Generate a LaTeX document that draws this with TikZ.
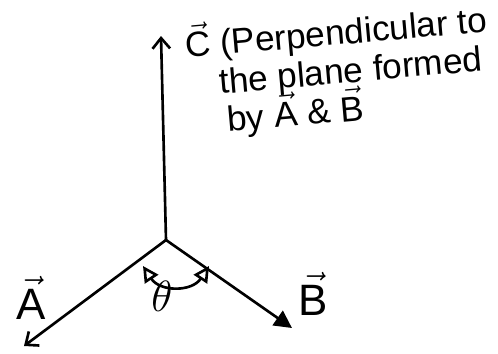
\documentclass[tikz,border=0pt]{standalone}
\usepackage{amsmath}
\usepackage{fontspec}
\setmainfont{Liberation Sans}
\usetikzlibrary{arrows.meta,positioning}
\newcommand{\vecl}[1]{\ensuremath{\vec{\text{#1}}}}

\begin{document}
\begin{tikzpicture}[x=0.02cm,y=-0.02cm,
  vecline/.style={line width=1.5pt, line cap=round},
  handtext/.style={font=\fontsize{20}{24}\selectfont, anchor=base west, rotate=5, inner sep=0pt},
  veclabel/.style={font=\fontsize{25}{28}\selectfont, inner sep=0pt},
]
\useasboundingbox (0,0) rectangle (498,353);

% origin and vector tips
\coordinate (O) at (166,240);
\coordinate (Ctip) at (161,36);
\coordinate (Atip) at (24,346);
\coordinate (Btip) at (292,328);

\draw[vecline, -{Straight Barb[length=6pt,width=10pt]}] (O) -- (Ctip);
\draw[vecline, -{Straight Barb[length=6pt,width=10pt]}] (O) -- (Atip);
\draw[vecline, -{Triangle[length=10pt,width=10pt]}] (O) -- (Btip);

% angle between A and B
\coordinate (thL) at (143,266);
\coordinate (thR) at (209,266);
\draw[vecline, {Triangle[open,length=9pt,width=9pt]}-{Triangle[open,length=9pt,width=9pt]}]
  (thL) .. controls (160,292) and (192,292) .. (thR);

% labels
\node[veclabel] (Alabel) at (31,298) {\vecl{A}};
\node[veclabel] (Blabel) at (313,294) {\vecl{B}};
\node[veclabel] (theta) at (162,296) {$\theta$};

% note on C
\node[handtext] (line1) at (186,58) {\vecl{C} (Perpendicular to};
\node[handtext] (line2) at (220,94) {the plane formed};
\node[handtext] (line3) at (228,132) {by \vecl{A} \& \vecl{B}};

\end{tikzpicture}
\end{document}
